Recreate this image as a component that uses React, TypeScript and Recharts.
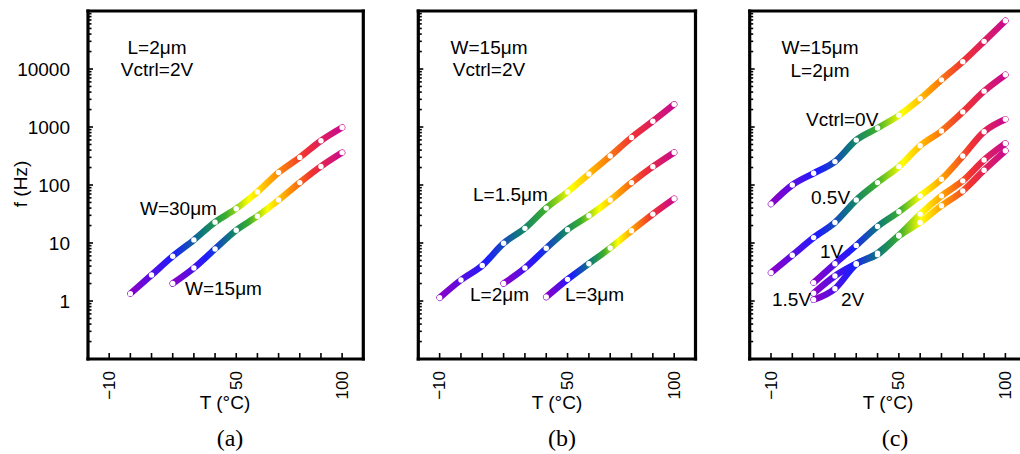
import { LineChart, Line, XAxis, YAxis, ReferenceLine } from "recharts";

// temperature grid (°C) and tick labels
const TEMPS = [-10, 0, 10, 20, 30, 40, 50, 60, 70, 80, 90, 100];
const X_LABELS = [-10, 50, 100];
const Y_DECADES = [0.1, 1, 10, 100, 1000, 10000, 100000];
const Y_LABELS = [1, 10, 100, 1000, 10000];
const MINOR_STEPS = [2, 3, 4, 5, 6, 7, 8, 9];

// (a) L=2um, Vctrl=2V
const A_W30 = [1.34, 2.8, 5.9, 11.3, 22.9, 39, 76, 164, 299, 580, 980];
const A_W15 = [2.0, 3.7, 7.9, 16.6, 29, 55, 110, 209, 362];
// (b) W=15um, Vctrl=2V
const B_L15 = [1.14, 2.3, 4.1, 9.9, 17.9, 40, 76, 155, 316, 660, 1260, 2460];
const B_L2 = [2.0, 3.7, 8.1, 17, 29.5, 55, 110, 207, 364];
const B_L3 = [1.17, 2.36, 4.4, 8.2, 16.3, 31.5, 58];
// (c) W=15um, L=2um
const C_V0 = [47, 100, 159, 253, 594, 960, 1590, 3070, 6500, 13400, 30000, 68000];
const C_V05 = [3.07, 6.15, 12.4, 22.6, 55, 110, 207, 474, 855, 1820, 4150, 7950];
const C_V1 = [2.07, 4.4, 9.1, 19.3, 34.5, 65, 126, 316, 830, 1360];
const C_V15 = [1.36, 2.7, 4.4, 6.7, 13.6, 31.5, 65, 118, 270, 520];
const C_V2 = [1.05, 1.63, 4.3, 6.3, 13.2, 22.6, 44, 79, 180, 390];

const FONT = "'Liberation Sans', Arial, sans-serif";
const X_DOM = [-20, 110];
const Y_DOM = [0.1, 100000];

const Y_TICKS = Y_DECADES.flatMap((d) =>
  d < 100000 ? [d, ...MINOR_STEPS.map((m) => +(d * m).toPrecision(3))] : [d]
);

// series end at 100 °C, so take the tail of the temperature grid
const pts = (vals: number[]) =>
  TEMPS.slice(TEMPS.length - vals.length).map((t, i) => ({ t, f: vals[i] }));

const RAINBOW = [
  { o: 0, c: "#8c00c8" },
  { o: 0.2, c: "#1c1cff" },
  { o: 0.34, c: "#0e7a78" },
  { o: 0.45, c: "#3aae2c" },
  { o: 0.56, c: "#ffff00" },
  { o: 0.68, c: "#ff9800" },
  { o: 0.82, c: "#f03232" },
  { o: 1, c: "#c80a90" },
];

// panel (c) runs past the right edge of the figure: no right border there
const PANELS = [
  { id: "a", left: 0, width: 380, axisW: 88, right: 16.7, labeled: true, closed: true, series: [A_W30, A_W15] },
  { id: "b", left: 380, width: 340, axisW: 38.3, right: 24.5, labeled: false, closed: true, series: [B_L15, B_L2, B_L3] },
  {
    id: "c",
    left: 710,
    width: 340,
    axisW: 39.7,
    right: 23.3,
    labeled: false,
    closed: false,
    series: [C_V0, C_V05, C_V1, C_V15, C_V2],
  },
];

const NOTES = [
  { x: 157, y: 54, s: "L=2μm", a: "middle" },
  { x: 157, y: 76, s: "Vctrl=2V", a: "middle" },
  { x: 140, y: 215, s: "W=30μm", a: "start" },
  { x: 185, y: 295, s: "W=15μm", a: "start" },
  { x: 489, y: 54, s: "W=15μm", a: "middle" },
  { x: 489, y: 76, s: "Vctrl=2V", a: "middle" },
  { x: 473, y: 201, s: "L=1.5μm", a: "start" },
  { x: 470, y: 301, s: "L=2μm", a: "start" },
  { x: 565, y: 301, s: "L=3μm", a: "start" },
  { x: 820, y: 54, s: "W=15μm", a: "middle" },
  { x: 820, y: 77, s: "L=2μm", a: "middle" },
  { x: 806, y: 126, s: "Vctrl=0V", a: "start" },
  { x: 811, y: 204, s: "0.5V", a: "start" },
  { x: 820, y: 258, s: "1V", a: "start" },
  { x: 772, y: 306, s: "1.5V", a: "start" },
  { x: 841, y: 306, s: "2V", a: "start" },
];

const CAPTIONS = [
  { x: 230, s: "(a)", tx: 225 },
  { x: 562, s: "(b)", tx: 557 },
  { x: 895, s: "(c)", tx: 888 },
];

function XTick({ x, y, payload }: any) {
  const v = payload.value;
  const ty = y + 12;
  return (
    <g>
      <line x1={x} y1={y} x2={x} y2={y - 6} stroke="#000" strokeWidth={1.6} />
      {X_LABELS.includes(v) && (
        <text
          x={x}
          y={ty}
          transform={`rotate(-90 ${x} ${ty})`}
          textAnchor="end"
          dominantBaseline="central"
          fontSize={17}
          fontFamily={FONT}
          fill="#000"
        >
          {v < 0 ? `\u2212${-v}` : v}
        </text>
      )}
    </g>
  );
}

function YTick({ x, y, payload, labeled }: any) {
  const v = payload.value;
  const major = Y_DECADES.includes(v);
  return (
    <g>
      <line x1={x} y1={y} x2={x + (major ? 5 : 3.5)} y2={y} stroke="#000" strokeWidth={1.6} />
      {labeled && Y_LABELS.includes(v) && (
        <text
          x={x - 18}
          y={y}
          textAnchor="end"
          dominantBaseline="central"
          fontSize={19}
          fontFamily={FONT}
          fill="#000"
        >
          {v}
        </text>
      )}
    </g>
  );
}

function frameSides(closed: boolean) {
  const [x0, x1] = X_DOM;
  const [y0, y1] = Y_DOM;
  const sides = [
    [{ x: x0, y: y1 }, { x: x1, y: y1 }],
    [{ x: x0, y: y0 }, { x: x1, y: y0 }],
    [{ x: x0, y: y0 }, { x: x0, y: y1 }],
  ];
  if (closed) sides.push([{ x: x1, y: y0 }, { x: x1, y: y1 }]);
  return sides;
}

export default function App() {
  return (
    <div
      style={{
        position: "absolute",
        left: 0,
        top: 0,
        width: 1020,
        height: 454,
        overflow: "hidden",
        background: "#fff",
      }}
    >
      {PANELS.map((p) => (
        <div
          key={p.id}
          style={{ position: "absolute", left: p.left, top: 0, width: p.width, height: 454 }}
        >
          <LineChart
            width={p.width}
            height={454}
            margin={{ top: 11, right: p.right, bottom: 0, left: 0 }}
          >
            <defs>
              <linearGradient id={`rainbow-${p.id}`} x1="0" y1="0" x2="1" y2="0">
                {RAINBOW.map((s) => (
                  <stop key={s.o} offset={s.o} stopColor={s.c} />
                ))}
              </linearGradient>
            </defs>
            <XAxis
              dataKey="t"
              type="number"
              domain={X_DOM}
              ticks={TEMPS}
              interval={0}
              height={95}
              tickSize={0}
              tickMargin={0}
              axisLine={false}
              tickLine={false}
              tick={(props: any) => <XTick {...props} />}
              allowDataOverflow
            />
            <YAxis
              dataKey="f"
              type="number"
              scale="log"
              domain={Y_DOM}
              ticks={Y_TICKS}
              interval={0}
              width={p.axisW}
              tickSize={0}
              tickMargin={0}
              axisLine={false}
              tickLine={false}
              tick={(props: any) => <YTick {...props} labeled={p.labeled} />}
              allowDataOverflow
            />
            {frameSides(p.closed).map((seg, i) => (
              <ReferenceLine
                key={`f${i}`}
                segment={seg}
                stroke="#000"
                strokeWidth={3.2}
                strokeLinecap="square"
                ifOverflow="visible"
              />
            ))}
            {p.series.map((vals, i) => (
              <Line
                key={i}
                data={pts(vals)}
                dataKey="f"
                type="monotone"
                stroke={`url(#rainbow-${p.id})`}
                strokeWidth={6.5}
                strokeLinecap="round"
                dot={{ r: 2.7, fill: "#fff", stroke: "none" }}
                activeDot={false}
                isAnimationActive={false}
              />
            ))}
          </LineChart>
        </div>
      ))}
      <svg
        width={1020}
        height={454}
        style={{ position: "absolute", left: 0, top: 0, pointerEvents: "none" }}
      >
        <text
          x={20}
          y={184}
          transform="rotate(-90 20 184)"
          textAnchor="middle"
          dominantBaseline="central"
          fontSize={19}
          fontFamily={FONT}
        >
          f (Hz)
        </text>
        {NOTES.map((n, i) => (
          <text key={i} x={n.x} y={n.y} textAnchor={n.a as any} fontSize={19} fontFamily={FONT}>
            {n.s}
          </text>
        ))}
        {CAPTIONS.map((c) => (
          <g key={c.s}>
            <text x={c.tx} y={409} textAnchor="middle" fontSize={19} fontFamily={FONT}>
              T (°C)
            </text>
            <text
              x={c.x}
              y={446}
              textAnchor="middle"
              fontSize={24}
              fontFamily="'Liberation Serif', 'Times New Roman', serif"
            >
              {c.s}
            </text>
          </g>
        ))}
      </svg>
    </div>
  );
}
